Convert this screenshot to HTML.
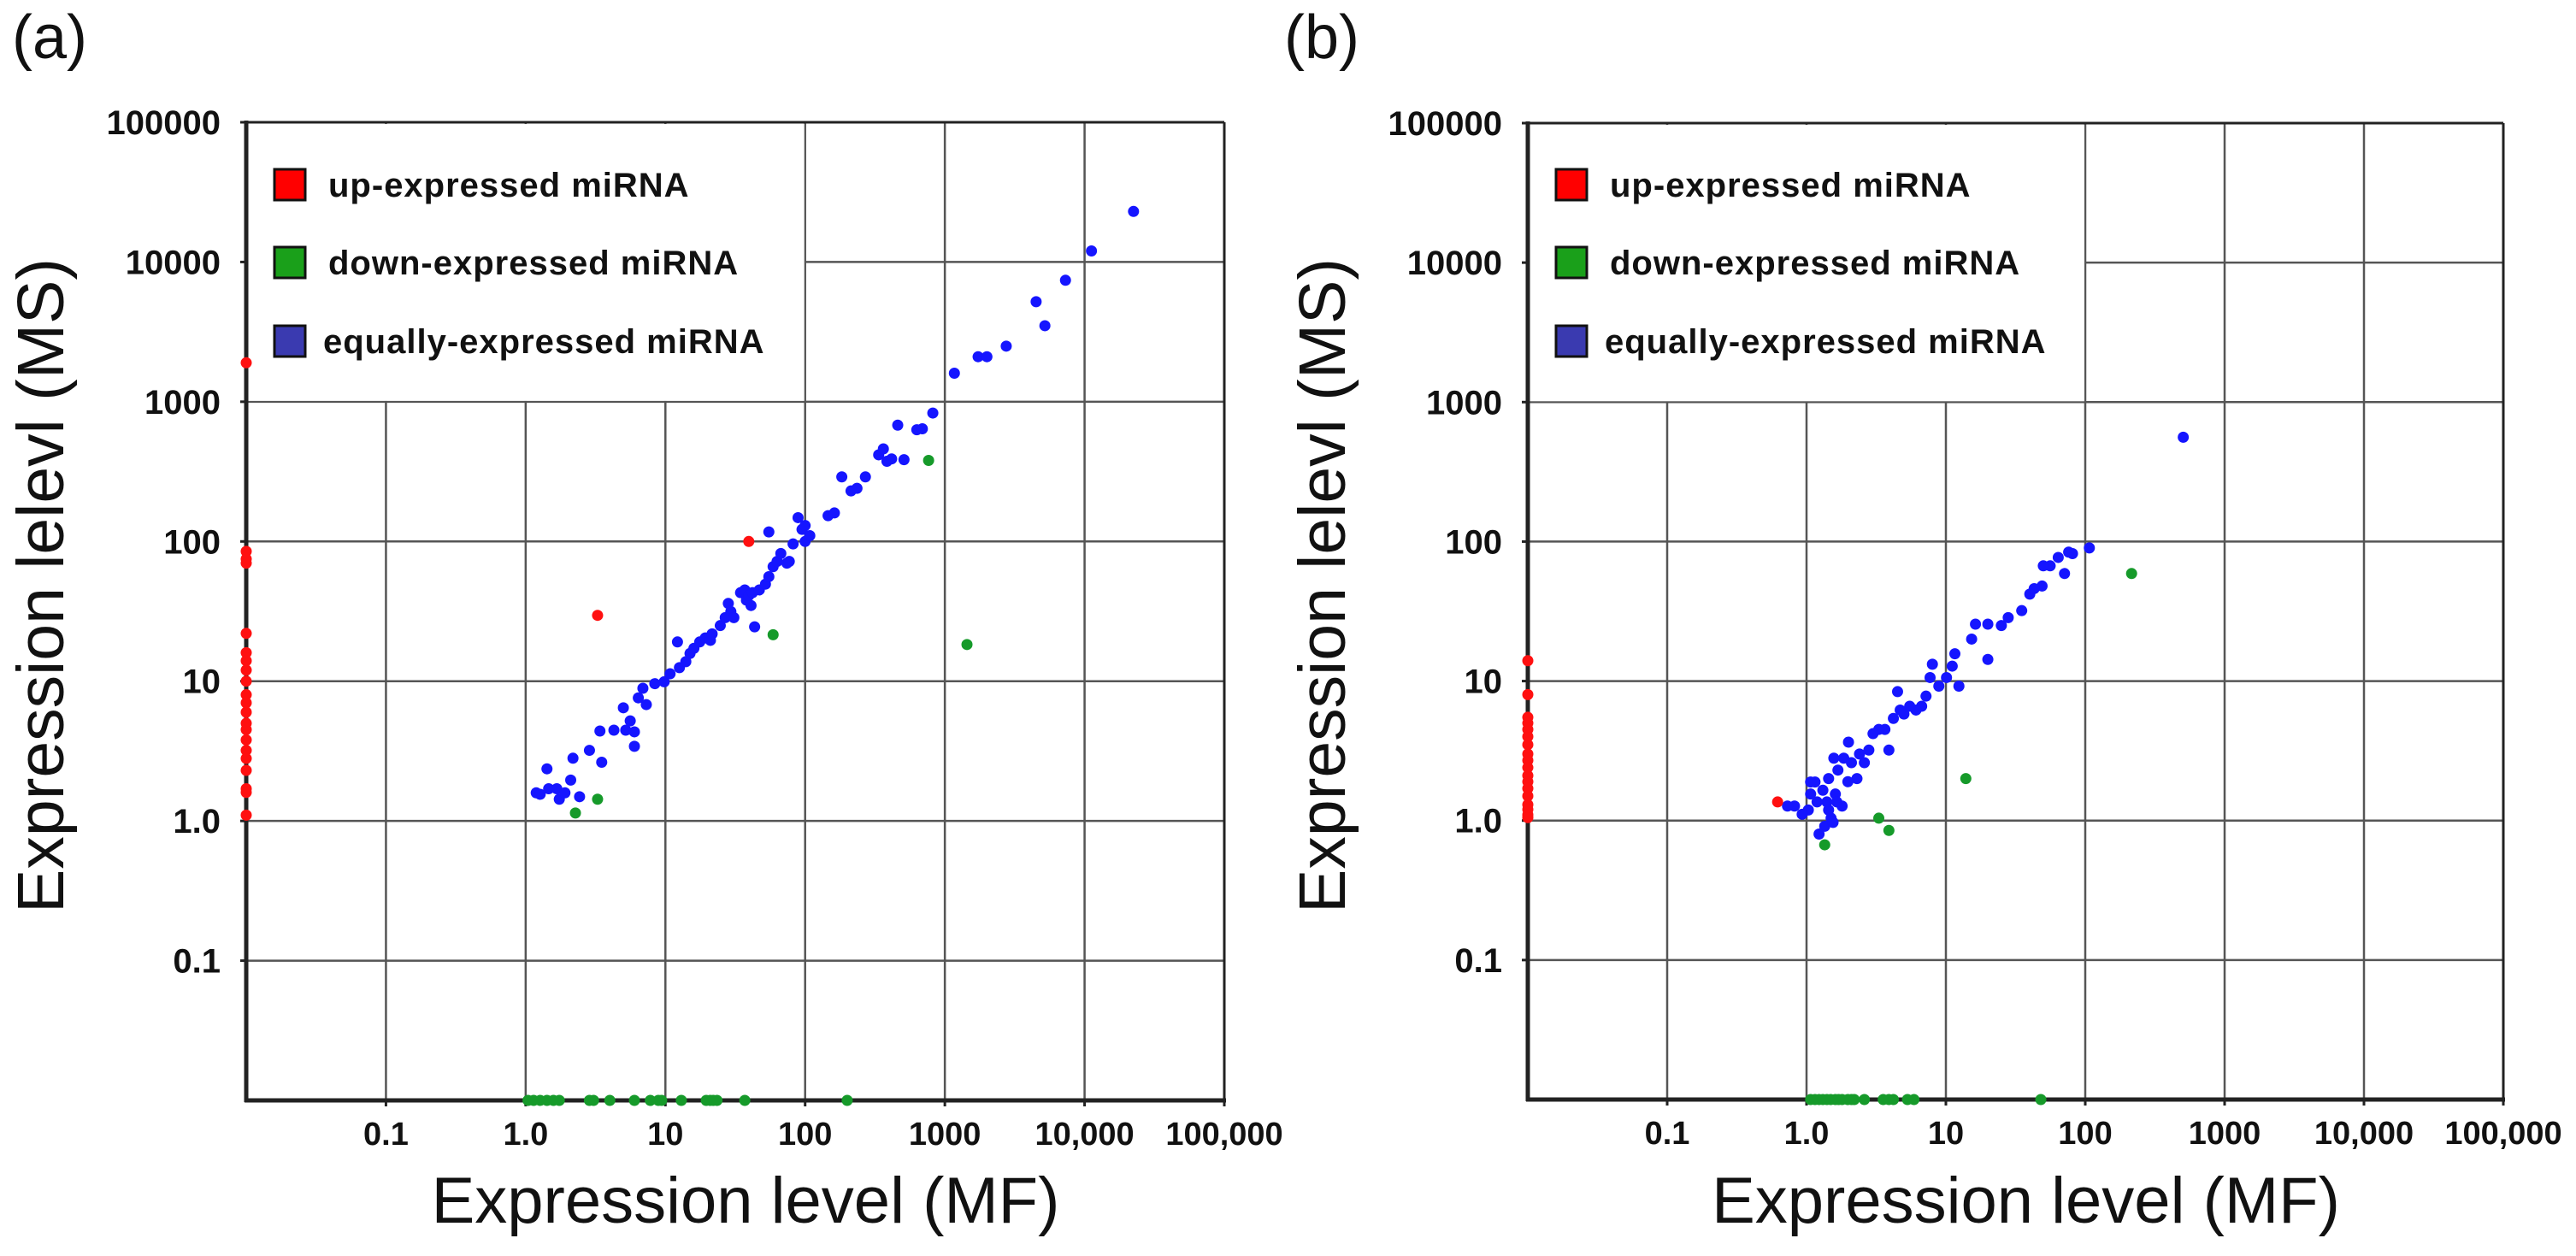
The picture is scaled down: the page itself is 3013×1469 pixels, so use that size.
<!DOCTYPE html>
<html><head><meta charset="utf-8"><style>
html,body{margin:0;padding:0;background:#fff;}
svg{display:block;}
text{font-family:"Liberation Sans",Arial,sans-serif;}
</style></head><body>
<svg id="chart" width="3013" height="1469" viewBox="0 0 3013 1469" xmlns="http://www.w3.org/2000/svg"></svg>
<script>
// ---------- Data ----------
const xTickValues = [0.1, 1, 10, 100, 1000, 10000, 100000];
const xTickLabels = ["0.1", "1.0", "10", "100", "1000", "10,000", "100,000"];
const yTickValues = [0.1, 1, 10, 100, 1000, 10000, 100000];
const yTickLabels = ["0.1", "1.0", "10", "100", "1000", "10000", "100000"];
const legendLabels = ["up-expressed miRNA", "down-expressed miRNA", "equally-expressed miRNA"];

// Panel (a)
const aBlueX = [1.19,1.42,1.27,1.46,1.67,1.74,1.91,2.10,2.18,2.43,2.86,3.40,3.50,4.28,5.0,5.2,6.0,6.0,5.6,6.4,6.9,7.3,8.4,9.8,10.8,12.2,12.6,14.0,15.0,16.0,17.6,19.3,21,21.6,24.7,26.8,28.2,29.4,30.9,34.5,37,38,39.5,42,41,43.5,47,52,55,55,59,63,67,74,77,82,89,95,100,108,100,146,162,183,213,235,270,336,363,385,416,510,460,630,690,820,1170,1730,2000,2750,4500,5200,7300,11200,22400];
const aBlueY = [1.59,2.36,1.55,1.70,1.70,1.43,1.59,1.96,2.81,1.49,3.20,4.40,2.63,4.46,6.45,4.46,4.34,3.42,5.2,7.6,8.9,6.8,9.6,9.9,11.3,19.1,12.5,13.8,15.8,17.2,19.1,20.4,19.6,21.8,25,28.5,36,31.5,28.5,43,45,38,41,43,34.8,24.5,45,49.5,117,56,66,72,82,70,72,96,148,122,100,110,130,153,160,290,230,240,290,417,460,375,390,385,680,630,640,830,1600,2100,2100,2500,5200,3500,7400,12000,23000];
const aRedX = [3.27,39.5,0.01,0.01,0.01,0.01,0.01,0.01,0.01,0.01,0.01,0.01,0.01,0.01,0.01,0.01,0.01,0.01,0.01,0.01,0.01,0.01,0.01];
const aRedY = [29.6,100,1900,85,75,70,22,16,14,12,10,8,7,6,5,4.5,3.8,3.2,2.8,2.3,1.7,1.6,1.1];
const aGreenX = [2.27,3.27,59,765,1440,1.04,1.14,1.27,1.42,1.58,1.74,2.86,3.06,4.0,6.0,7.8,8.9,9.4,13,19.6,20.9,22,23.4,37,200];
const aGreenY = [1.14,1.43,21.5,380,18.3,0.01,0.01,0.01,0.01,0.01,0.01,0.01,0.01,0.01,0.01,0.01,0.01,0.01,0.01,0.01,0.01,0.01,0.01,0.01,0.01];

// Panel (b)
const bBlueX = [505,107,81,76,71,64,56,50,49,43,40,35,28,25,20,16.3,15.3,20,12.4,11.6,11.1,10.1,8.9,8.0,7.7,7.2,6.7,6.1,5.5,5.0,4.7,4.5,4.2,3.9,3.65,3.3,3.0,2.8,2.6,2.4,2.3,2.0,1.98,1.85,1.8,1.68,1.61,1.57,1.5,1.44,1.40,1.35,1.31,1.23,1.19,1.15,1.07,1.07,1.03,0.93,0.82,0.73,1.44,1.55,1.65,2.1];
const bBlueY = [560,90,82,84,59,77,67,67,48,46,42,32,28.5,25,25.6,25.6,20,14.3,9.2,15.7,12.8,10.6,9.2,13.2,10.6,7.8,6.6,6.2,6.6,5.8,6.2,8.4,5.4,3.2,4.5,4.5,4.2,3.2,2.6,3.0,2.0,3.65,1.9,2.8,1.27,2.3,1.55,2.8,1.04,2.0,1.36,0.91,1.65,0.80,1.36,1.89,1.55,1.89,1.19,1.11,1.27,1.27,1.19,0.97,1.36,2.6];
const bRedX = [0.62,0.01,0.01,0.01,0.01,0.01,0.01,0.01,0.01,0.01,0.01,0.01,0.01,0.01,0.01,0.01,0.01,0.01,0.01];
const bRedY = [1.36,14,8,5.5,5,4.5,4,3.5,3,2.7,2.4,2.1,1.9,1.7,1.5,1.3,1.2,1.1,1.05];
const bGreenX = [215,13.9,3.3,3.9,1.35,1.07,1.15,1.23,1.31,1.40,1.49,1.61,1.7,1.8,1.98,2.1,2.2,2.6,3.55,3.9,4.2,5.3,5.9,48];
const bGreenY = [59,2.0,1.04,0.85,0.67,0.01,0.01,0.01,0.01,0.01,0.01,0.01,0.01,0.01,0.01,0.01,0.01,0.01,0.01,0.01,0.01,0.01,0.01,0.01];

// ---------- Rendering ----------
const NS = "http://www.w3.org/2000/svg";
const svg = document.getElementById("chart");
function mk(tag, attrs, parent) {
  const e = document.createElementNS(NS, tag);
  for (const k in attrs) e.setAttribute(k, attrs[k]);
  (parent || svg).appendChild(e);
  return e;
}
const X_MIN_LOG = -2, X_MAX_LOG = 5, Y_MIN_LOG = -2, Y_MAX_LOG = 5;

function drawPanel(p) {
  const L = p.left, R = p.right, T = p.top, B = p.bottom;
  const xs = v => L + (Math.log10(v) - X_MIN_LOG) / (X_MAX_LOG - X_MIN_LOG) * (R - L);
  const ys = v => B - (Math.log10(v) - Y_MIN_LOG) / (Y_MAX_LOG - Y_MIN_LOG) * (B - T);
  const g = mk("g", {});
  
  

  const lbl = mk("text", {x: p.labelX, y: 68, "font-size": 72, fill: "#111"}, g);
  lbl.textContent = p.label;
  
  

  // grid
  const grid = mk("g", {stroke: "#555", "stroke-width": 2.5}, g);
  
  
  for (const v of xTickValues) {
    const gl = mk("line", {x1: xs(v), x2: xs(v), y1: T, y2: B}, grid);
    
    
  }
  for (const v of yTickValues) {
    const gl = mk("line", {x1: L, x2: R, y1: ys(v), y2: ys(v)}, grid);
    
    
  }

  // legend (white box covering grid)
  const leg = mk("g", {}, g);
  
  
  mk("rect", {x: L + 2, y: T + 2, width: xs(100) - L - 3, height: ys(1000) - T - 3, fill: "#fff"}, leg);
  const cols = ["#ff0000", "#1aa01a", "#3a3ab0"];
  const rowsY = [216, 307, 399];
  for (let i = 0; i < 3; i++) {
    const sq = mk("rect", {x: L + 33, y: rowsY[i] - 18, width: 36, height: 36, fill: cols[i], stroke: "#111", "stroke-width": 3}, leg);
    
    
    const t = mk("text", {x: L + (i === 2 ? 90 : 96) , y: rowsY[i] + 14, "font-size": 40, "font-weight": "bold", "letter-spacing": 1, fill: "#111"}, leg);
    t.textContent = legendLabels[i];
    
    
  }

  // frame
  const fr = mk("g", {stroke: "#222"}, g);
  
  
  mk("line", {x1: L, x2: R, y1: T, y2: T, "stroke-width": 3}, fr);
  mk("line", {x1: R, x2: R, y1: T, y2: B, "stroke-width": 3}, fr);
  mk("line", {x1: L, x2: L, y1: T - 2, y2: B + 2, "stroke-width": 5}, fr);
  mk("line", {x1: L - 2, x2: R + 2, y1: B, y2: B, "stroke-width": 5}, fr);
  for (const v of yTickValues) mk("line", {x1: L - 7, x2: L, y1: ys(v), y2: ys(v), "stroke-width": 3}, fr);
  for (const v of xTickValues) mk("line", {x1: xs(v), x2: xs(v), y1: B, y2: B + 7, "stroke-width": 3}, fr);

  // tick labels
  for (let i = 0; i < yTickValues.length; i++) {
    const t = mk("text", {x: L - 30, y: ys(yTickValues[i]) + 14, "font-size": 40, "font-weight": "bold", "text-anchor": "end", fill: "#111"}, g);
    t.textContent = yTickLabels[i];
    
    
  }
  for (let i = 0; i < xTickValues.length; i++) {
    const t = mk("text", {x: xs(xTickValues[i]), y: B + 52, "font-size": 38, "font-weight": "bold", "text-anchor": "middle", fill: "#111"}, g);
    t.textContent = xTickLabels[i];
    
    
  }

  // axis titles
  const xt = mk("text", {x: (L + R) / 2 + 12, y: 1430, "font-size": 76, "text-anchor": "middle", fill: "#111"}, g);
  xt.textContent = "Expression level (MF)";
  
  
  const yx = L - 214, yy = 685;
  const yt = mk("text", {x: yx, y: yy, "font-size": 77, "text-anchor": "middle", fill: "#111", transform: "rotate(-90 " + yx + " " + yy + ")"}, g);
  yt.textContent = "Expression lelevl (MS)";
  
  

  // points
  const series = [
    {xv: p.blueX, yv: p.blueY, c: "#1515ff", n: "equal-point"},
    {xv: p.greenX, yv: p.greenY, c: "#169a2a", n: "down-point"},
    {xv: p.redX, yv: p.redY, c: "#ff1010", n: "up-point"}
  ];
  for (const s of series) {
    const sg = mk("g", {fill: s.c}, g);
    
    
    for (let i = 0; i < s.xv.length; i++) {
      const c = mk("circle", {cx: xs(s.xv[i]), cy: ys(s.yv[i]), r: 6.5}, sg);
      
      
    }
  }
}

drawPanel({name: "panel-a", label: "(a)", labelX: 14, left: 288, right: 1432, top: 143, bottom: 1287,
  blueX: aBlueX, blueY: aBlueY, redX: aRedX, redY: aRedY, greenX: aGreenX, greenY: aGreenY});
drawPanel({name: "panel-b", label: "(b)", labelX: 1502, left: 1787, right: 2928, top: 144, bottom: 1286,
  blueX: bBlueX, blueY: bBlueY, redX: bRedX, redY: bRedY, greenX: bGreenX, greenY: bGreenY});
</script>
</body></html>
